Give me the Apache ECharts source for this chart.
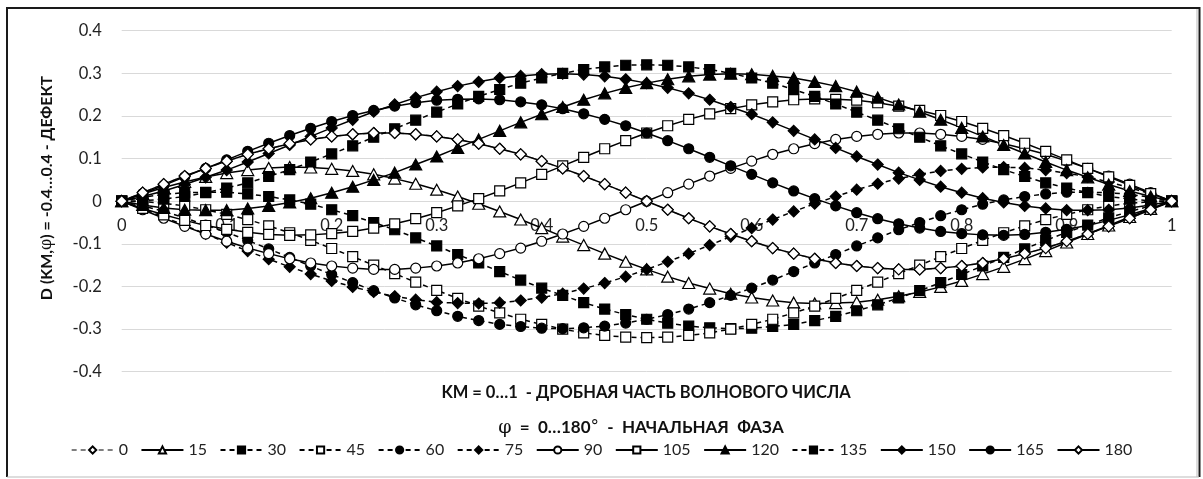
<!DOCTYPE html>
<html>
<head>
<meta charset="utf-8">
<script src="https://cdn.jsdelivr.net/npm/echarts@6/dist/echarts.min.js"></script>
<style>
html,body{margin:0;padding:0;background:#fff;}
#chart{width:1203px;height:479px;}
</style>
</head>
<body>
<div id="chart"></div>
<script>
// KM = 0...1 (step 0.02)
const KM = [0,0.02,0.04,0.06,0.08,0.1,0.12,0.14,0.16,0.18,0.2,0.22,0.24,0.26,0.28,0.3,0.32,0.34,0.36,0.38,0.4,0.42,0.44,0.46,0.48,0.5,0.52,0.54,0.56,0.58,0.6,0.62,0.64,0.66,0.68,0.7,0.72,0.74,0.76,0.78,0.8,0.82,0.84,0.86,0.88,0.9,0.92,0.94,0.96,0.98,1];

const PHASES = ['0','15','30','45','60','75','90','105','120','135','150','165','180'];

const d0 = [0,0.020,0.040,0.059,0.077,0.094,0.110,0.123,0.135,0.145,0.152,0.157,0.160,0.160,0.157,0.152,0.145,0.135,0.123,0.110,0.094,0.077,0.059,0.040,0.020,0,-0.020,-0.040,-0.059,-0.077,-0.094,-0.110,-0.123,-0.135,-0.145,-0.152,-0.157,-0.160,-0.160,-0.157,-0.152,-0.145,-0.135,-0.123,-0.110,-0.094,-0.077,-0.059,-0.040,-0.020,0];
const d15 = [0,0.017,0.032,0.045,0.057,0.066,0.073,0.078,0.080,0.079,0.076,0.071,0.063,0.053,0.041,0.027,0.011,-0.006,-0.024,-0.043,-0.063,-0.083,-0.103,-0.123,-0.142,-0.160,-0.177,-0.192,-0.205,-0.217,-0.226,-0.233,-0.238,-0.240,-0.239,-0.237,-0.231,-0.223,-0.213,-0.201,-0.187,-0.171,-0.154,-0.136,-0.117,-0.097,-0.077,-0.057,-0.037,-0.018,0];
const d30 = [0,0.009,0.016,0.020,0.021,0.021,0.017,0.011,0.003,-0.007,-0.020,-0.034,-0.050,-0.067,-0.086,-0.105,-0.125,-0.145,-0.165,-0.185,-0.204,-0.221,-0.238,-0.253,-0.266,-0.277,-0.286,-0.293,-0.297,-0.299,-0.298,-0.294,-0.289,-0.280,-0.270,-0.257,-0.243,-0.227,-0.210,-0.191,-0.172,-0.152,-0.132,-0.112,-0.092,-0.073,-0.056,-0.039,-0.024,-0.011,0];
const d45 = [0,-0.001,-0.005,-0.011,-0.020,-0.031,-0.043,-0.058,-0.074,-0.092,-0.111,-0.130,-0.150,-0.170,-0.190,-0.209,-0.228,-0.246,-0.262,-0.277,-0.289,-0.300,-0.309,-0.315,-0.319,-0.320,-0.319,-0.315,-0.309,-0.300,-0.289,-0.277,-0.262,-0.246,-0.228,-0.209,-0.190,-0.170,-0.150,-0.130,-0.111,-0.092,-0.074,-0.058,-0.043,-0.031,-0.020,-0.011,-0.005,-0.001,0];
const d60 = [0,-0.011,-0.024,-0.039,-0.056,-0.073,-0.092,-0.112,-0.132,-0.152,-0.172,-0.191,-0.210,-0.227,-0.243,-0.257,-0.270,-0.280,-0.289,-0.294,-0.298,-0.299,-0.297,-0.293,-0.286,-0.277,-0.266,-0.253,-0.238,-0.221,-0.204,-0.185,-0.165,-0.145,-0.125,-0.105,-0.086,-0.067,-0.050,-0.034,-0.020,-0.007,0.003,0.011,0.017,0.021,0.021,0.020,0.016,0.009,0];
const d75 = [0,-0.018,-0.037,-0.057,-0.077,-0.097,-0.117,-0.136,-0.154,-0.171,-0.187,-0.201,-0.213,-0.223,-0.231,-0.237,-0.239,-0.240,-0.238,-0.233,-0.226,-0.217,-0.205,-0.192,-0.177,-0.160,-0.142,-0.123,-0.103,-0.083,-0.063,-0.043,-0.024,-0.006,0.011,0.027,0.041,0.053,0.063,0.071,0.076,0.079,0.080,0.078,0.073,0.066,0.057,0.045,0.032,0.017,0];
const d90 = [0,-0.020,-0.040,-0.059,-0.077,-0.094,-0.110,-0.123,-0.135,-0.145,-0.152,-0.157,-0.160,-0.160,-0.157,-0.152,-0.145,-0.135,-0.123,-0.110,-0.094,-0.077,-0.059,-0.040,-0.020,0,0.020,0.040,0.059,0.077,0.094,0.110,0.123,0.135,0.145,0.152,0.157,0.160,0.160,0.157,0.152,0.145,0.135,0.123,0.110,0.094,0.077,0.059,0.040,0.020,0];
const d105 = [0,-0.017,-0.032,-0.045,-0.057,-0.066,-0.073,-0.078,-0.080,-0.079,-0.076,-0.071,-0.063,-0.053,-0.041,-0.027,-0.011,0.006,0.024,0.043,0.063,0.083,0.103,0.123,0.142,0.160,0.177,0.192,0.205,0.217,0.226,0.233,0.238,0.240,0.239,0.237,0.231,0.223,0.213,0.201,0.187,0.171,0.154,0.136,0.117,0.097,0.077,0.057,0.037,0.018,0];
const d120 = [0,-0.009,-0.016,-0.020,-0.021,-0.021,-0.017,-0.011,-0.003,0.007,0.020,0.034,0.050,0.067,0.086,0.105,0.125,0.145,0.165,0.185,0.204,0.221,0.238,0.253,0.266,0.277,0.286,0.293,0.297,0.299,0.298,0.294,0.289,0.280,0.270,0.257,0.243,0.227,0.210,0.191,0.172,0.152,0.132,0.112,0.092,0.073,0.056,0.039,0.024,0.011,0];
const d135 = [0,0.001,0.005,0.011,0.020,0.031,0.043,0.058,0.074,0.092,0.111,0.130,0.150,0.170,0.190,0.209,0.228,0.246,0.262,0.277,0.289,0.300,0.309,0.315,0.319,0.320,0.319,0.315,0.309,0.300,0.289,0.277,0.262,0.246,0.228,0.209,0.190,0.170,0.150,0.130,0.111,0.092,0.074,0.058,0.043,0.031,0.020,0.011,0.005,0.001,0];
const d150 = [0,0.011,0.024,0.039,0.056,0.073,0.092,0.112,0.132,0.152,0.172,0.191,0.210,0.227,0.243,0.257,0.270,0.280,0.289,0.294,0.298,0.299,0.297,0.293,0.286,0.277,0.266,0.253,0.238,0.221,0.204,0.185,0.165,0.145,0.125,0.105,0.086,0.067,0.050,0.034,0.020,0.007,-0.003,-0.011,-0.017,-0.021,-0.021,-0.020,-0.016,-0.009,0];
const d165 = [0,0.018,0.037,0.057,0.077,0.097,0.117,0.136,0.154,0.171,0.187,0.201,0.213,0.223,0.231,0.237,0.239,0.240,0.238,0.233,0.226,0.217,0.205,0.192,0.177,0.160,0.142,0.123,0.103,0.083,0.063,0.043,0.024,0.006,-0.011,-0.027,-0.041,-0.053,-0.063,-0.071,-0.076,-0.079,-0.080,-0.078,-0.073,-0.066,-0.057,-0.045,-0.032,-0.017,0];
const d180 = [0,0.020,0.040,0.059,0.077,0.094,0.110,0.123,0.135,0.145,0.152,0.157,0.160,0.160,0.157,0.152,0.145,0.135,0.123,0.110,0.094,0.077,0.059,0.040,0.020,0,-0.020,-0.040,-0.059,-0.077,-0.094,-0.110,-0.123,-0.135,-0.145,-0.152,-0.157,-0.160,-0.160,-0.157,-0.152,-0.145,-0.135,-0.123,-0.110,-0.094,-0.077,-0.059,-0.040,-0.020,0];

const VALUES = [d0,d15,d30,d45,d60,d75,d90,d105,d120,d135,d150,d165,d180];

// styles per series: [symbol, filled, line, size]
const STYLE = [
  ['diamond', false, 'gray', 11],
  ['triangle', false, 'solid', [12,11]],
  ['rect', true, 'dashed', 10],
  ['rect', false, 'dashed', 10],
  ['circle', true, 'dashed', 10],
  ['diamond', true, 'dashed', 11],
  ['circle', false, 'solid', 10],
  ['rect', false, 'solid', 10],
  ['triangle', true, 'solid', [12,11]],
  ['rect', true, 'dashed', 10],
  ['diamond', true, 'solid', 11],
  ['circle', true, 'solid', 10],
  ['diamond', false, 'solid', 11]
];

const FONT = 'Lato';

const series = PHASES.map((name, i) => {
  const st = STYLE[i];
  const dashed = st[2] !== 'solid';
  return {
    name: name,
    type: 'line',
    data: KM.map((x, j) => [x, VALUES[i][j]]),
    symbol: st[0],
    symbolSize: st[3],
    showAllSymbol: true,
    lineStyle: {
      color: st[2] === 'gray' ? '#7f7f7f' : '#000',
      width: 1.5,
      type: dashed ? [5, 4] : 'solid'
    },
    itemStyle: {
      color: st[1] ? '#000' : '#fff',
      borderColor: '#000',
      borderWidth: 1.2
    },
    emphasis: { disabled: true },
    animation: false,
    z: 2
  };
});

const chart = echarts.init(document.getElementById('chart'), null, { renderer: 'canvas' });
chart.setOption({
  backgroundColor: '#fff',
  animation: false,
  textStyle: { fontFamily: FONT },
  grid: { left: 121.7, right: 31.3, top: 30.7, bottom: 107.3, containLabel: false },
  xAxis: {
    type: 'value', min: 0, max: 1, interval: 0.1,
    position: 'bottom',
    offset: -170.5,
    axisLine: { show: true, onZero: false, lineStyle: { color: '#d9d9d9', width: 1 } },
    axisTick: { show: false },
    splitLine: { show: false },
    axisLabel: { color: '#222', fontSize: 16.5, fontFamily: FONT, margin: 16 }
  },
  yAxis: {
    type: 'value', min: -0.4, max: 0.4, interval: 0.1,
    axisLine: { show: false },
    axisTick: { show: false },
    splitLine: { show: true, lineStyle: { color: '#d9d9d9', width: 1 } },
    axisLabel: { color: '#222', fontSize: 16.5, fontFamily: FONT, margin: 20,
      formatter: v => String(Math.round(v * 10) / 10) }
  },
  legend: {
    data: PHASES,
    bottom: 16,
    left: 'center',
    itemWidth: 42,
    itemHeight: 9,
    itemGap: 12.5,
    textStyle: { color: '#222', fontSize: 16, fontFamily: FONT },
    selectedMode: false
  },
  graphic: [
    { type: 'line', shape: { x1: 7, y1: 8, x2: 1199, y2: 8 }, style: { stroke: '#1a1a1a', lineWidth: 2 } },
    { type: 'line', shape: { x1: 7, y1: 7, x2: 7, y2: 477 }, style: { stroke: '#1a1a1a', lineWidth: 2 } },
    { type: 'line', shape: { x1: 1199.5, y1: 7, x2: 1199.5, y2: 477 }, style: { stroke: '#1a1a1a', lineWidth: 2 } },
    { type: 'line', shape: { x1: 1197, y1: 9, x2: 1197, y2: 477 }, style: { stroke: '#bbb', lineWidth: 1 } },
    { type: 'line', shape: { x1: 7, y1: 477, x2: 1199, y2: 477 }, style: { stroke: '#bbb', lineWidth: 1 } },
    { type: 'text', x: 646, y: 393, style: { text: 'KM = 0…1  - ДРОБНАЯ ЧАСТЬ ВОЛНОВОГО ЧИСЛА', font: 'bold 16.5px ' + FONT, fill: '#111', textAlign: 'center', textVerticalAlign: 'middle' } },
    { type: 'text', x: 641, y: 428, style: {
        text: '{p|φ}{b|  =  0…180}{d|°}{b|  -  НАЧАЛЬНАЯ  ФАЗА}',
        textAlign: 'center', textVerticalAlign: 'middle',
        rich: {
          p: { font: '19px "DejaVu Serif"', fill: '#111' },
          b: { font: 'bold 17px ' + FONT, fill: '#111' },
          d: { font: '17px "DejaVu Sans"', fill: '#111' }
        } } },
    { type: 'text', x: 47, y: 188, rotation: Math.PI / 2, style: {
        text: '{b|D (KM,}{p|φ}{b|) = -0.4…0.4 - ДЕФЕКТ}',
        textAlign: 'center', textVerticalAlign: 'middle',
        rich: {
          p: { font: '16px "DejaVu Serif"', fill: '#111' },
          b: { font: 'bold 16px ' + FONT, fill: '#111' }
        } } }
  ],
  series: series
});
</script>
</body>
</html>
